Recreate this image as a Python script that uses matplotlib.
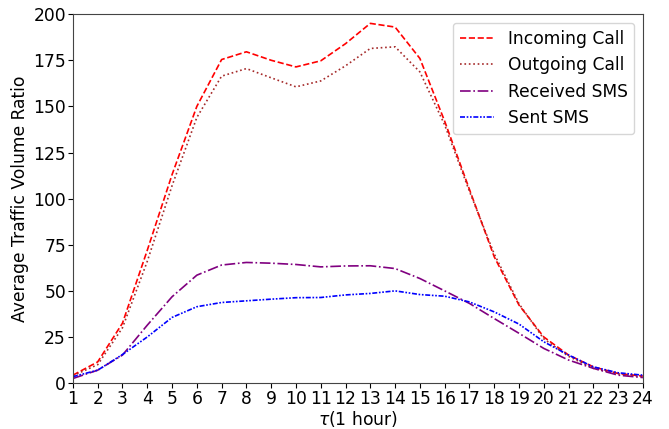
import matplotlib
matplotlib.use("Agg")
import matplotlib.pyplot as plt

hours = list(range(1, 25))
incoming_call = [4.3, 11.5, 32.5, 72, 113, 150, 175.4, 179.6, 175, 171.4, 174.7, 184,
                 195, 193, 176, 142, 105, 68.5, 42.3, 25, 15.2, 8.8, 5.2, 3.8]
outgoing_call = [4, 10, 30, 66, 107, 144, 166.4, 170.5, 165.5, 160.6, 163.8, 172,
                 181.4, 182.3, 168.7, 140, 104, 70, 43, 24, 14.5, 8, 5, 3.5]
received_sms = [2.5, 7, 15.2, 31.4, 46.8, 58.5, 64, 65.4, 65, 64.3, 63, 63.5,
                63.6, 62.1, 56.7, 50, 43.2, 35, 27, 18.8, 12.5, 8, 4.3, 3]
sent_sms = [3.5, 7, 15.5, 25, 35.6, 41.4, 43.7, 44.6, 45.5, 46.3, 46.4, 47.8,
            48.6, 50, 48, 47.1, 44, 38.6, 32, 22.4, 15.2, 8.8, 5.6, 4.3]

fig = plt.figure(figsize=(6.69, 4.29), dpi=100)
ax = fig.add_axes([0.109, 0.107, 0.852, 0.860])

ax.plot(hours, incoming_call, color="red", linestyle="--", lw=1.2, label="Incoming Call")
ax.plot(hours, outgoing_call, color="brown", linestyle=":", lw=1.2, label="Outgoing Call")
ax.plot(hours, received_sms, color="purple", linestyle="-.", lw=1.2, label="Received SMS")
ax.plot(hours, sent_sms, color="blue", linestyle=(0, (3, 1, 1, 1, 1, 1)), lw=1.2, label="Sent SMS")

ax.set_xlim(1, 24)
ax.set_ylim(0, 200)
ax.set_xticks(hours)
ax.set_yticks(range(0, 201, 25))
ax.tick_params(labelsize=12.3, pad=1.5)
for s in ax.spines.values():
    s.set_color("#444444")
ax.set_xlabel(r"$\tau$(1 hour)", fontsize=12.3, labelpad=1)
ax.set_ylabel("Average Traffic Volume Ratio", fontsize=12.3, labelpad=3)
ax.legend(loc="upper right", fontsize=12.3)

fig.savefig("out.png", dpi=100)
